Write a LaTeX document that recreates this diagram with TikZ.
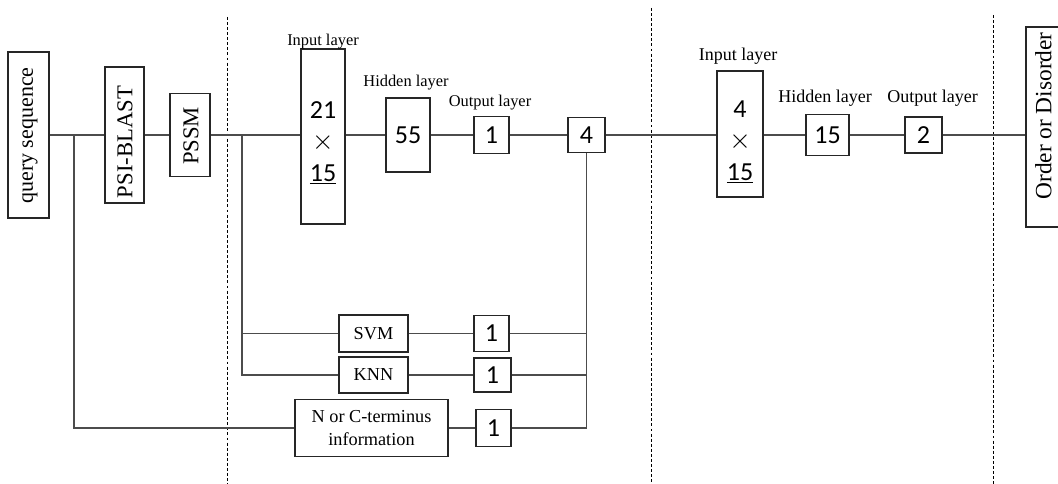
\documentclass[tikz,border=0pt]{standalone}
\usepackage{fontspec}
\setmainfont{Liberation Serif}
\newfontfamily\numfont{Carlito}
\begin{document}
\begin{tikzpicture}[x=0.75pt,y=-0.75pt,
  box/.style={draw=black!85, line width=0.9pt, inner sep=0pt, fill=white},
  wire/.style={draw=black!70, line width=0.9pt},
  sepline/.style={draw=black, line width=0.6pt, dash pattern=on 2.2pt off 1.6pt},
  lbl/.style={font=\fontsize{12.3}{14}\selectfont, inner sep=0pt, anchor=base},
  lblr/.style={font=\fontsize{13.5}{15}\selectfont, inner sep=0pt, anchor=base},
  num/.style={font=\numfont\fontsize{19.5}{23}\selectfont},
  stack/.style={font=\numfont\fontsize{19.5}{23.5}\selectfont, inner sep=0pt, align=center, anchor=north},
  vtext/.style={font=\fontsize{17}{20}\selectfont, rotate=90, inner sep=0pt},
  mtext/.style={font=\fontsize{13.7}{17}\selectfont, align=center}]
\useasboundingbox (0,0) rectangle (1058,484);
\newcommand{\mult}{{\fontsize{20}{23.5}\selectfont$\times$}}

% stage separators
\draw[sepline] (227,17) -- (227,484);
\draw[sepline] (651,8) -- (651,484);
\draw[sepline] (993,15) -- (993,484);

% feature extraction
\node[box, minimum width=30.75pt, minimum height=124.5pt] (q) at (28.5,135) {};
\node[vtext, font=\fontsize{16.5}{20}\selectfont] (qt) at (30,135.5) {query sequence};
\node[box, minimum width=29.25pt, minimum height=102pt] (psi) at (124.5,135) {};
\node[vtext] (psit) at (125,142) {PSI-BLAST};
\node[box, minimum width=30pt, minimum height=62.25pt] (pssm) at (190,135) {};
\node[vtext] (pssmt) at (191,136) {PSSM};

% first network
\node[box, minimum width=33pt, minimum height=131.25pt] (in1) at (323,136.5) {};
\node[stack] (in1t) at (323,101.5) {21\\\mult\\\underline{15}};
\node[box, num, minimum width=33pt, minimum height=55.5pt] (hid1) at (408,135) {55};
\node[box, num, minimum width=26.25pt, minimum height=27.75pt] (out1) at (491.5,135) {1};
\node[box, num, minimum width=27.75pt, minimum height=26.25pt] (four) at (586.5,135) {4};

\node[lbl] (lin1) at (323,45.5) {Input layer};
\node[lbl] (lhid1) at (406,87) {Hidden layer};
\node[lbl] (lout1) at (490,107) {Output layer};

% other predictors
\node[box, font=\fontsize{13.7}{16}\selectfont, minimum width=51.75pt, minimum height=27.75pt] (svm) at (373.5,333.5) {SVM};
\node[box, font=\fontsize{13.7}{16}\selectfont, minimum width=51.75pt, minimum height=27pt] (knn) at (373.5,375) {KNN};
\node[box, mtext, minimum width=114.75pt, minimum height=42.75pt] (nc) at (371.5,428) {N or C-terminus\\information};
\node[box, num, minimum width=26.25pt, minimum height=27pt] (osvm) at (491.5,333.5) {1};
\node[box, num, minimum width=27.75pt, minimum height=25.5pt] (oknn) at (492.5,375) {1};
\node[box, num, minimum width=26.25pt, minimum height=27.75pt] (onc) at (493.5,428) {1};

% second network
\node[box, minimum width=34.5pt, minimum height=94.5pt] (in2) at (740,134) {};
\node[stack] (in2t) at (740,100.5) {4\\\mult\\\underline{15}};
\node[box, num, minimum width=32.25pt, minimum height=30.75pt] (hid2) at (827.5,135) {15};
\node[box, num, minimum width=27.75pt, minimum height=27pt] (out2) at (923.5,135) {2};

\node[lblr] (lin2) at (738,60.5) {Input layer};
\node[lblr] (lhid2) at (825,103) {Hidden layer};
\node[lblr] (lout2) at (932.5,103) {Output layer};

% result
\node[box, minimum width=31.5pt, minimum height=150pt] (od) at (1047,127) {};
\node[vtext, font=\fontsize{17.5}{20}\selectfont] (odt) at (1043.5,116) {Order or Disorder};

% main pipeline
\coordinate (b1) at (74,135);
\coordinate (b2) at (242,135);
\draw[wire] (q.east) -- (psi.west);
\draw[wire] (psi.east) -- (pssm.west);
\draw[wire] (pssm.east) -- (pssm.east -| in1.west);
\draw[wire] (in1.east |- hid1.west) -- (hid1.west);
\draw[wire] (hid1.east) -- (out1.west);
\draw[wire] (out1.east) -- (four.west);
\draw[wire] (four.east) -- (four.east -| in2.west);
\draw[wire] (in2.east |- hid2.west) -- (hid2.west);
\draw[wire] (hid2.east) -- (out2.west);
\draw[wire] (out2.east) -- (out2.east -| od.west);

% side branches
\draw[wire] (b1) |- (nc.west);
\draw[wire] (b2) |- (knn.west);
\draw[wire] (b2 |- svm.west) -- (svm.west);
\draw[wire] (svm.east) -- (osvm.west);
\draw[wire] (knn.east) -- (oknn.west);
\draw[wire] (nc.east) -- (onc.west);
\draw[wire] (onc.east) -| (four.south);
\draw[wire] (osvm.east) -- (osvm.east -| four.south);
\draw[wire] (oknn.east) -- (oknn.east -| four.south);
\end{tikzpicture}
\end{document}
